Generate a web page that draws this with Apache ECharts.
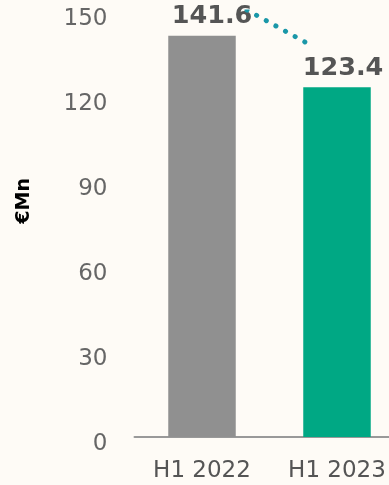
<!DOCTYPE html>
<html><head><meta charset="utf-8">
<script src="https://cdn.jsdelivr.net/npm/echarts@6/dist/echarts.min.js"></script>
<style>html,body{margin:0;padding:0;background:#fefbf6;}#c{width:389px;height:485px;}</style>
</head><body><div id="c"></div>
<script>
const categories = ['H1 2022', 'H1 2023'];
const values = [141.6, 123.4];
const barColors = ['#909090', '#00a884'];
const labelShift = [10, 6];
const yTicks = [0, 30, 60, 90, 120, 150];
const trendX = [0.333, 0.763];
const trendY = [150.7, 139.4];

const chart = echarts.init(document.getElementById('c'));
chart.setOption({
  backgroundColor: '#fefbf6',
  animation: false,
  grid: { left: 134.5, width: 270, top: 12, bottom: 48, containLabel: false, outerBoundsMode: 'none' },
  xAxis: [{
    type: 'category', data: categories,
    axisLine: { show: true, lineStyle: { color: '#999', width: 2 } },
    axisTick: { show: false },
    axisLabel: { color: '#555', fontSize: 23, fontFamily: 'DejaVu Sans', margin: 23, hideOverlap: false }
  }, {
    type: 'value', min: -0.5, max: 1.5, show: false
  }],
  yAxis: {
    type: 'value', min: 0, max: 150, interval: 30,
    axisLine: { show: false }, axisTick: { show: false }, splitLine: { show: false },
    axisLabel: { color: '#666', fontSize: 23, fontFamily: 'DejaVu Sans', margin: 27, verticalAlign: 'top', lineHeight: 15 }
  },
  graphic: [{
    type: 'text', left: 15, top: 178,
    rotation: Math.PI / 2,
    style: { text: '€Mn', fill: '#000', font: 'bold 19px "DejaVu Sans"' }
  }],
  series: [{
    type: 'bar', barWidth: '50%',
    data: values.map((v, i) => ({ value: v, itemStyle: { color: barColors[i] }, label: { offset: [labelShift[i], 0] } })),
    label: { show: true, position: 'top', distance: 6, color: '#555', fontSize: 25.5, fontWeight: 'bold', fontFamily: 'DejaVu Sans' }
  }, {
    type: 'line', xAxisIndex: 1, symbol: 'none',
    data: trendX.map((x, i) => [x, trendY[i]]),
    lineStyle: { color: '#1a97a8', width: 5, type: [0.1, 10.9], cap: 'round' }
  }]
});
</script></body></html>
